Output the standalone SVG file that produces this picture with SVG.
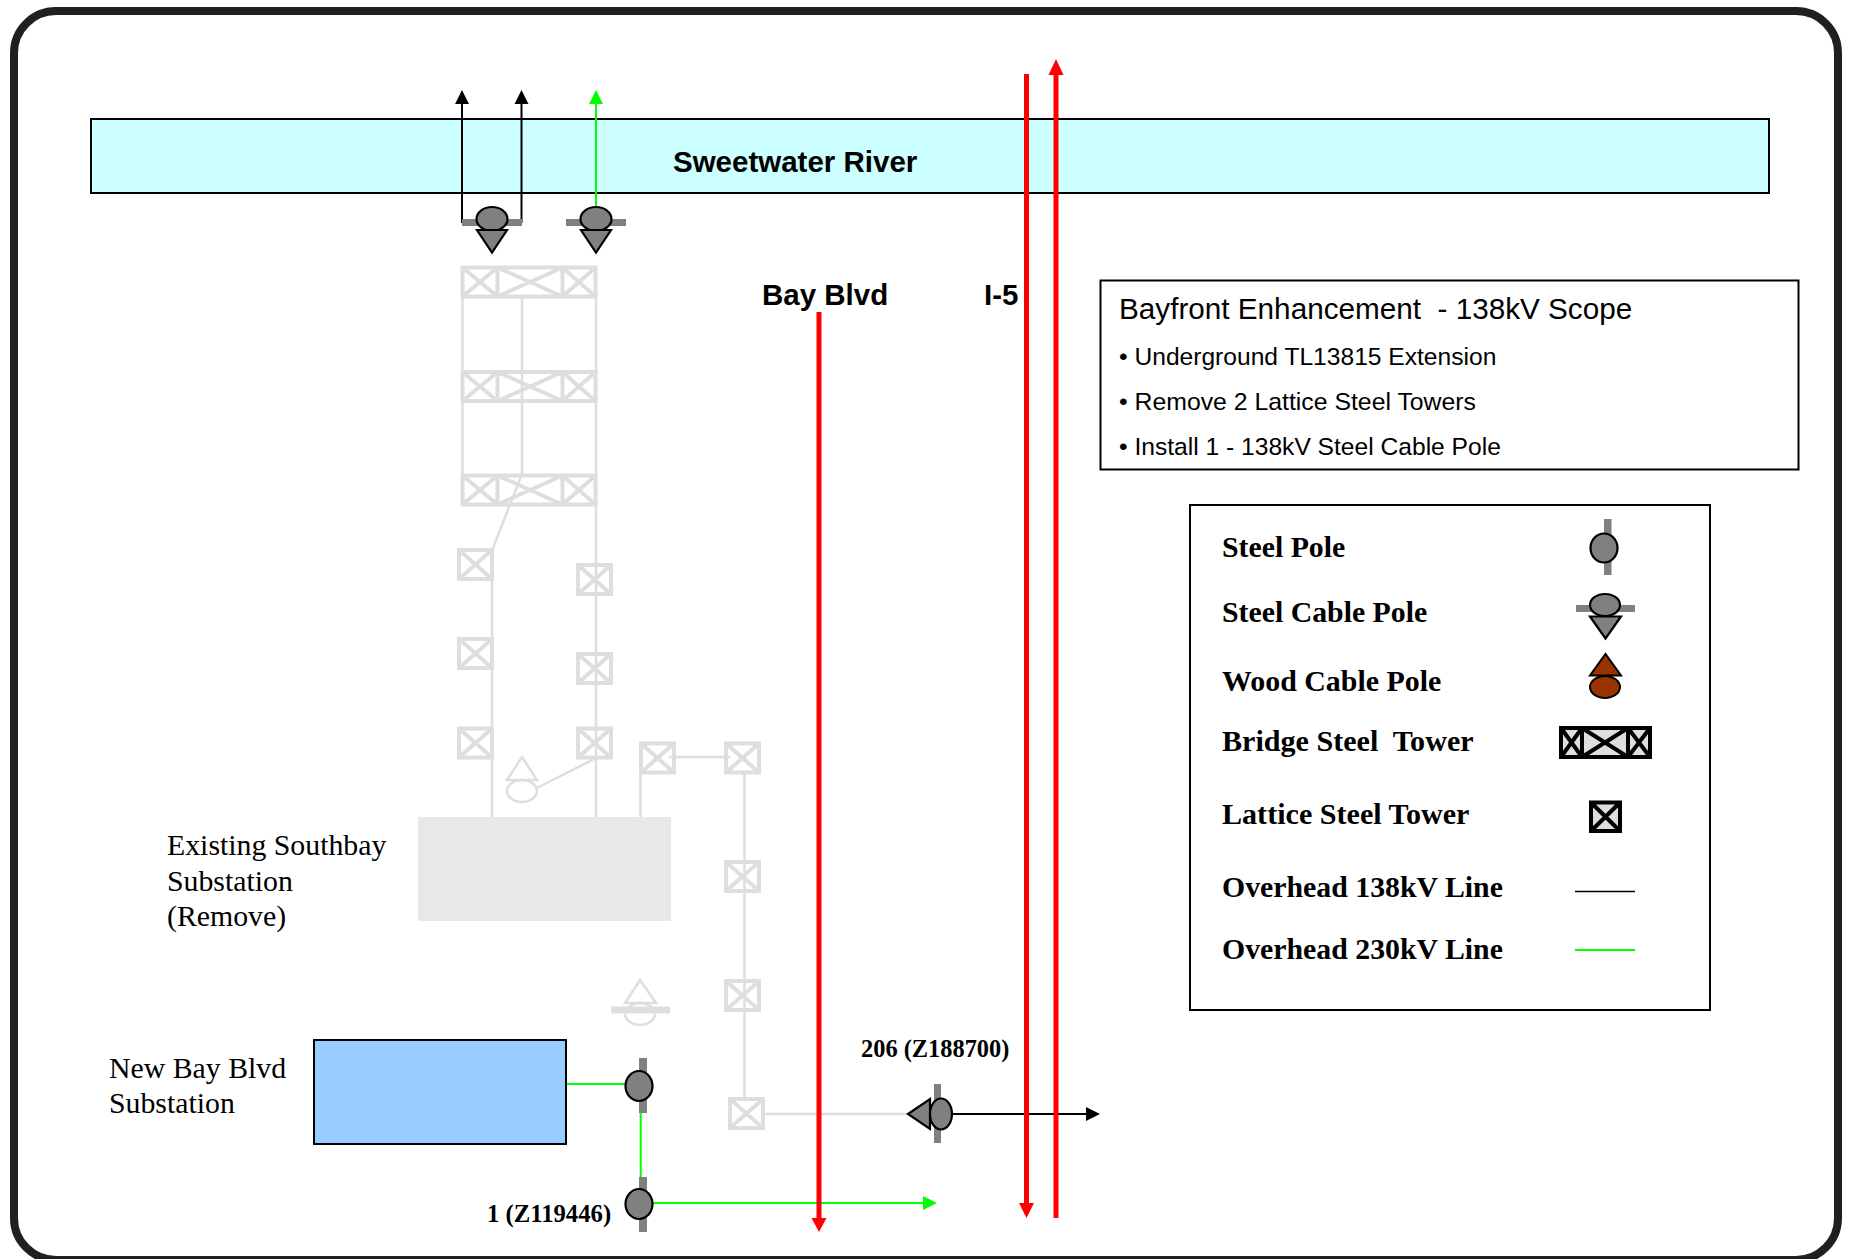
<svg xmlns="http://www.w3.org/2000/svg" width="1849" height="1259" viewBox="0 0 1849 1259">
<style>
text{white-space:pre}
.s{font-family:"Liberation Sans",Arial,sans-serif;fill:#000}
.t{font-family:"Liberation Serif","Times New Roman",serif;fill:#000}
.b{font-weight:bold}
.ghost{fill:none;stroke:#dedede;stroke-width:2.5}
.g4{fill:none;stroke:#dedede;stroke-width:4}
.pole{fill:#808080;stroke:#000;stroke-width:2.2}
.bar{fill:#808080}
.wood{fill:#993300;stroke:#000;stroke-width:2}
.k{fill:none;stroke:#000;stroke-width:2}
.gn{fill:none;stroke:#00ff00;stroke-width:2}
.rd{fill:none;stroke:#ff0000;stroke-width:5}
.gl{fill:none;stroke:#dedede;stroke-width:2.5}
</style>
<defs>
<symbol id="lat" overflow="visible"><path class="g4" d="M2 2H35V31H2ZM2 2L35 31M35 2L2 31"/></symbol>
<symbol id="brg" overflow="visible"><path class="g4" d="M2 2H135V31H2ZM37 2V31M102 2V31M2 2L37 31M37 2L2 31M37 2L102 31M102 2L37 31M102 2L135 31M135 2L102 31"/></symbol>
</defs>
<rect width="1849" height="1259" fill="#fff"/>
<rect x="14" y="11" width="1824" height="1249" rx="42" ry="42" fill="none" stroke="#231f20" stroke-width="8"/>
<g id="river"><rect x="91" y="119" width="1678" height="74" fill="#ccffff" stroke="#000" stroke-width="2"/>
<text class="s b" x="673" y="172" font-size="29.500">Sweetwater River</text></g>
<g id="connectors">
<path class="gl" d="M462.500 298V474M522 298V474M596 298V817M492 581V817M522 474L493 548M537 788L594 759M640.500 773V817M669 757H730M744.500 773V1097M765 1114H908"/>
<path class="k" d="M462 223V104M521.500 223V104M953 1114H1086"/>
<path d="M462 90l7 14h-14zM521.500 90l7 14h-14zM1100 1114l-14-7v14z"/>
<path class="gn" d="M596 207V104M566 1084H626M640.700 1113V1192M652 1203H923"/>
<path fill="#00ff00" d="M596 90l7 14h-14zM937 1203l-14-7v14z"/>
<path class="rd" d="M819 312V1219M1026.500 74V1204M1056 73V1218"/>
<path fill="#ff0000" d="M819 1232l-7.500-14h15zM1026.500 1218l-7.500-15h15zM1056 59l7.500 16h-15z"/>
</g>
<g id="cable-pole-1"><rect class="bar" x="462" y="219" width="60" height="7"/><ellipse class="pole" cx="492" cy="219" rx="15.500" ry="12"/><path class="pole" d="M477 230H507L492 252.500Z"/></g>
<g id="cable-pole-2"><rect class="bar" x="566" y="219" width="60" height="7"/><ellipse class="pole" cx="596" cy="219" rx="15.500" ry="12"/><path class="pole" d="M581 230H611L596 252.500Z"/></g>
<g id="bridge-1"><use href="#brg" x="460.500" y="265.500"/></g>
<g id="bridge-2"><use href="#brg" x="460.500" y="370"/></g>
<g id="bridge-3"><use href="#brg" x="460.500" y="473.500"/></g>
<g id="lat-l1"><use href="#lat" x="457" y="548"/></g>
<g id="lat-l2"><use href="#lat" x="457" y="637"/></g>
<g id="lat-l3"><use href="#lat" x="457" y="726.500"/></g>
<g id="lat-r1"><use href="#lat" x="576" y="563"/></g>
<g id="lat-r2"><use href="#lat" x="576" y="652"/></g>
<g id="lat-r3"><use href="#lat" x="576" y="726.500"/></g>
<g id="lat-m1"><use href="#lat" x="639" y="741.500"/></g>
<g id="lat-m2"><use href="#lat" x="724" y="741.500"/></g>
<g id="lat-m3"><use href="#lat" x="724" y="860"/></g>
<g id="lat-m4"><use href="#lat" x="724" y="979"/></g>
<g id="lat-m5"><use href="#lat" x="728" y="1097"/></g>
<g id="ghost-pole-1"><path class="ghost" d="M507 780H537L522 757Z"/><ellipse class="ghost" cx="522" cy="791" rx="15" ry="11"/></g>
<g id="ghost-pole-2"><path class="ghost" d="M625 1003H656L640 980Z"/><ellipse class="ghost" cx="640" cy="1014" rx="15" ry="11"/><rect x="611" y="1006.500" width="59" height="7" fill="#dedede"/></g>
<g id="southbay"><rect x="418" y="817" width="253" height="104" fill="#e8e8e8"/>
<text class="t" font-size="29.800"><tspan x="167" y="855">Existing Southbay</tspan><tspan x="167" y="891">Substation</tspan><tspan x="167" y="926">(Remove)</tspan></text></g>
<g id="baybivd"><rect x="314" y="1040" width="252" height="104" fill="#99ccff" stroke="#000" stroke-width="2"/>
<text class="t" font-size="29.800"><tspan x="109" y="1078">New Bay Blvd</tspan><tspan x="109" y="1113">Substation</tspan></text></g>
<g id="pole-a"><rect class="bar" x="639" y="1058" width="8" height="55"/><ellipse class="pole" cx="639" cy="1086" rx="13.500" ry="15"/></g>
<g id="pole-b"><rect class="bar" x="639" y="1177" width="8" height="55"/><ellipse class="pole" cx="639" cy="1204" rx="13.500" ry="15"/><text class="t b" x="487" y="1222" font-size="24.700">1 (Z119446)</text></g>
<g id="pole-206"><rect class="bar" x="934" y="1084" width="7" height="59"/><path class="pole" d="M908 1114L930 1099V1129Z"/><ellipse class="pole" cx="941" cy="1114" rx="11" ry="15.500"/><text class="t b" x="861" y="1057" font-size="24.400">206 (Z188700)</text></g>
<g id="labels"><text class="s b" x="762" y="305" font-size="29.500">Bay Blvd</text><text class="s b" x="984" y="305" font-size="29.500">I-5</text></g>
<g id="scope"><rect x="1100.500" y="280.500" width="698" height="189" fill="#fff" stroke="#000" stroke-width="2"/>
<text class="s" x="1119" y="319" font-size="29.700">Bayfront Enhancement  - 138kV Scope</text>
<text class="s" x="1119" y="365" font-size="24.600">• Underground TL13815 Extension</text>
<text class="s" x="1119" y="409.500" font-size="24.800">• Remove 2 Lattice Steel Towers</text>
<text class="s" x="1119" y="454.500" font-size="24.600">• Install 1 - 138kV Steel Cable Pole</text></g>
<g id="legend"><rect x="1190" y="505" width="520" height="505" fill="#fff" stroke="#000" stroke-width="2"/>
<g class="t b" font-size="29.800">
<text x="1222" y="557">Steel Pole</text><text x="1222" y="622">Steel Cable Pole</text><text x="1222" y="691" font-size="29.900">Wood Cable Pole</text><text x="1222" y="750.500" font-size="30.100">Bridge Steel  Tower</text><text x="1222" y="824" font-size="30.100">Lattice Steel Tower</text><text x="1222" y="897">Overhead 138kV Line</text><text x="1222" y="959">Overhead 230kV Line</text></g>
<rect class="bar" x="1604" y="519" width="7.500" height="56"/><ellipse class="pole" cx="1604" cy="548" rx="13.500" ry="14.500"/>
<rect class="bar" x="1576" y="605" width="59" height="7"/><ellipse class="pole" cx="1605" cy="605" rx="15" ry="11"/><path class="pole" d="M1590 616.500H1621L1605.500 638.500Z"/>
<path class="wood" d="M1590 675.500H1621L1605.500 654Z"/><ellipse class="wood" cx="1605" cy="687" rx="15" ry="11"/>
<path d="M1561 728H1650V757H1561Z" fill="#dedede"/><path fill="none" stroke="#000" stroke-width="4" d="M1561 728H1650V757H1561ZM1582 728V757M1628 728V757M1561 728L1582 757M1582 728L1561 757M1582 728L1628 757M1628 728L1582 757M1628 728L1650 757M1650 728L1628 757"/>
<path d="M1591 802.500H1620V831H1591Z" fill="#dedede"/><path fill="none" stroke="#000" stroke-width="4" d="M1591 802.500H1620V831H1591ZM1591 802.500L1620 831M1620 802.500L1591 831"/>
<path d="M1575 891.500H1635" fill="none" stroke="#000" stroke-width="1.500"/><path class="gn" d="M1575 950H1635"/></g>
</svg>
